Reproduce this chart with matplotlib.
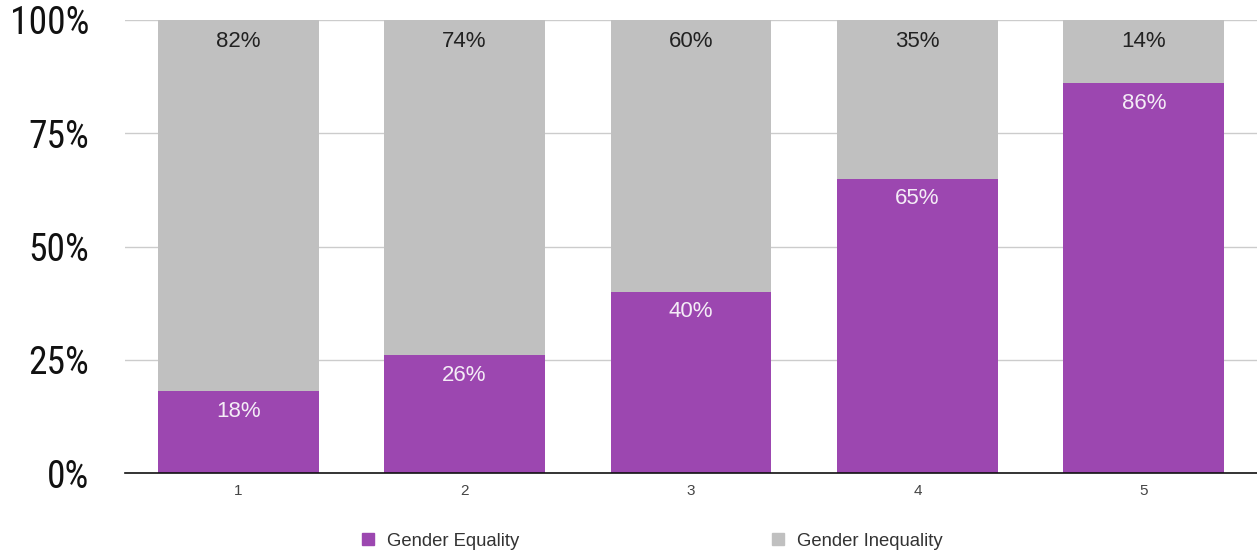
import matplotlib
matplotlib.use("Agg")
import matplotlib.pyplot as plt
from matplotlib.patches import Patch
from matplotlib import font_manager

categories = ["1", "2", "3", "4", "5"]
equality = [18, 26, 40, 65, 86]
inequality = [82, 74, 60, 35, 14]
y_ticks = [0, 25, 50, 75, 100]
series_names = ["Gender Equality", "Gender Inequality"]

purple = "#9c47b0"
gray = "#c0c0c0"

names = {f.name for f in font_manager.fontManager.ttflist}
tick_font, tick_size = "Liberation Sans", 23
for cand in ["Liberation Sans Narrow", "DejaVu Sans Condensed", "Roboto Condensed", "Open Sans Condensed"]:
    if cand in names:
        tick_font, tick_size = cand, 27
        break
plt.rcParams["font.family"] = ["Liberation Sans", "DejaVu Sans"]

fig = plt.figure(figsize=(12.57, 5.54), dpi=100)
ax = fig.add_axes([125 / 1257, 81 / 554, 1 - 125 / 1257, 453 / 554])

x = list(range(1, len(categories) + 1))
width = 0.71
ax.bar(x, equality, width=width, color=purple, zorder=2)
ax.bar(x, inequality, width=width, bottom=equality, color=gray, zorder=2)

for xi, e, g in zip(x, equality, inequality):
    ax.text(xi, e - 5.6, f"{e}%", ha="center", va="baseline", color="#f4ecf6", fontsize=16, zorder=3)
    ax.text(xi, e + g - 5.9, f"{g}%", ha="center", va="baseline", color="#222222", fontsize=16, zorder=3)

ax.set_xlim(0.5, 5.5)
ax.set_ylim(0, 100)
ax.set_xticks(x)
ax.set_xticklabels(categories, fontsize=11, color="#444444")
ax.set_yticks(y_ticks)
ax.set_yticklabels([f"{t}%" for t in y_ticks], fontsize=tick_size, color="#111111", family=tick_font)
ax.tick_params(axis="both", length=0)
ax.tick_params(axis="x", pad=8)
ax.tick_params(axis="y", pad=26)

ax.grid(axis="y", color="#cccccc", linewidth=1, zorder=0)
for side in ["top", "right", "left"]:
    ax.spines[side].set_visible(False)
ax.spines["bottom"].set_color("#111111")
ax.spines["bottom"].set_linewidth(1.2)
ax.spines["bottom"].set_zorder(4)

handles = [Patch(color=purple), Patch(color=gray)]
fig.legend(handles, series_names, loc="center", bbox_to_anchor=(652.5 / 1257, 1 - 541 / 554),
           ncol=2, frameon=False, fontsize=13.3, handlelength=0.65, handleheight=0.65,
           handletextpad=0.7, columnspacing=13.7, labelcolor="#333333")

fig.savefig("out.png", dpi=100)
